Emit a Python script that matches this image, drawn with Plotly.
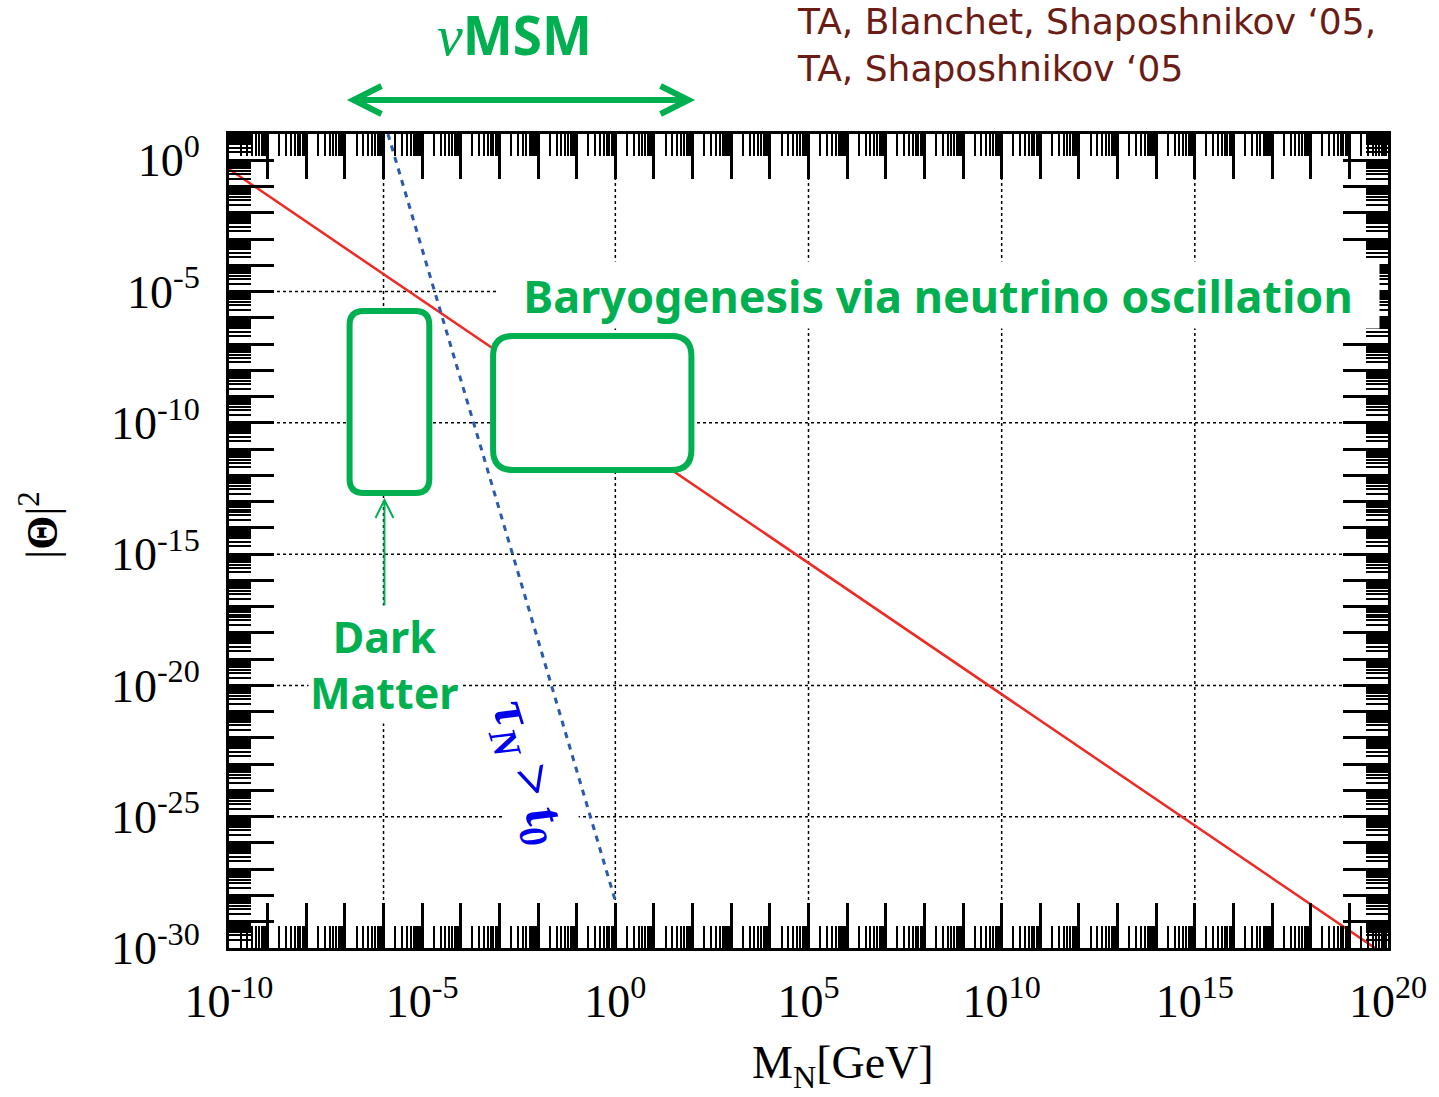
import plotly.graph_objects as go

# ---------------- data ----------------
x_decades = list(range(-10, 21))            # major x ticks (log10 GeV)
y_decades = list(range(-30, 2))             # major y ticks (log10)
x_label_every = 5
y_label_every = 5

seesaw_M = [1e-10, 1e20]                    # red line: |Theta|^2 = m_nu / M_N
seesaw_T2 = [4.6e-1, 4.6e-31]

life_M = [1.3e-6, 1.0]                      # blue dotted: tau_N = t_0
life_T2 = [1.0e1, 6.3e-29]

grid_x = [1e-6, 1e0, 1e5, 1e10, 1e15]       # vertical dotted guide lines
grid_y = [1e-5, 1e-10, 1e-15, 1e-20, 1e-25]  # horizontal dotted guide lines

xr = [-10, 20]
yr = [-30, 1]

# ---------------- geometry helpers (pixel -> paper) ----------------
W, H = 1439, 1097
L, R, T, B = 229, 1392, 134, 948
PW, PH = R - L, B - T


def px(x):
    return (x - L) / PW


def py(y):
    return (B - y) / PH


GREEN = "#00b050"
SERIF = "Liberation Serif"
SANS = "Noto Sans"

fig = go.Figure()

# dotted guide lines
gx, gy = [], []
for v in grid_y:
    gx += [10.0 ** xr[0], 10.0 ** xr[1], None]
    gy += [v, v, None]
for v in grid_x:
    gx += [v, v, None]
    gy += [10.0 ** yr[0], 10.0 ** yr[1], None]
fig.add_trace(go.Scatter(x=gx, y=gy, mode="lines",
                         line=dict(color="black", width=1.5, dash="3px,3px"),
                         hoverinfo="skip"))

fig.add_trace(go.Scatter(x=seesaw_M, y=seesaw_T2, mode="lines",
                         line=dict(color="#ee2a24", width=2.5)))
fig.add_trace(go.Scatter(x=life_M, y=life_T2, mode="lines",
                         line=dict(color="#2a5aad", width=3, dash="6px,6px")))


def rrect(x0, y0, x1, y1, r):
    # rounded rectangle path in paper coords, given pixel box
    rx, ry = r / PW, r / PH
    a, b, c, d = px(x0), px(x1), py(y1), py(y0)  # left, right, bottom, top
    return (f"M {a+rx},{d} L {b-rx},{d} Q {b},{d} {b},{d-ry} "
            f"L {b},{c+ry} Q {b},{c} {b-rx},{c} L {a+rx},{c} "
            f"Q {a},{c} {a},{c+ry} L {a},{d-ry} Q {a},{d} {a+rx},{d} Z")


shapes = []
shapes.append(dict(type="path", xref="paper", yref="paper", layer="above",
                   path=rrect(350, 311, 430, 493, 14),
                   line=dict(color=GREEN, width=6), fillcolor="white"))
shapes.append(dict(type="path", xref="paper", yref="paper", layer="above",
                   path=rrect(494, 336, 693, 470, 20),
                   line=dict(color=GREEN, width=6), fillcolor="white"))

# double arrow at top (nuMSM range)
arrow = (f"M {px(354)},{py(100)} L {px(690)},{py(100)} "
         f"M {px(382)},{py(86)} L {px(354)},{py(100)} L {px(382)},{py(114)} "
         f"M {px(662)},{py(86)} L {px(690)},{py(100)} L {px(662)},{py(114)}")
shapes.append(dict(type="path", xref="paper", yref="paper", layer="above",
                   path=arrow, line=dict(color=GREEN, width=6)))

# small arrow to dark matter box
dm_arrow = (f"M {px(385)},{py(612)} L {px(385)},{py(500)} "
            f"M {px(376)},{py(518)} L {px(385)},{py(500)} L {px(394)},{py(518)}")
shapes.append(dict(type="path", xref="paper", yref="paper", layer="above",
                   path=dm_arrow, line=dict(color=GREEN, width=2)))


def ann(x, y, text, **kw):
    d = dict(x=px(x), y=py(y), xref="paper", yref="paper", showarrow=False,
             xanchor="center", yanchor="middle", text=text)
    d.update(kw)
    return d


annotations = [
    ann(515, 35, f"<span style='font-family:{SERIF};font-size:58px'><i>ν</i></span><b>MSM</b>",
        font=dict(family=SANS, size=53, color=GREEN)),
    ann(797, 45, "TA, Blanchet, Shaposhnikov ‘05,<br>TA, Shaposhnikov ‘05",
        xanchor="left", align="left",
        font=dict(family="DejaVu Sans", size=36, color="#6b1c14")),
    ann(940, 295, "<b>Baryogenesis via neutrino oscillation</b>",
        width=880, height=64, bgcolor="white",
        font=dict(family=SANS, size=45, color=GREEN)),
    ann(385, 664, "<b>Dark<br>Matter</b>", bgcolor="white",
        font=dict(family=SANS, size=43, color=GREEN)),
    ann(529, 772, "<b><i>τ<sub>N</sub> > t<sub>0</sub></i></b>", textangle=73,
        bgcolor="white",
        font=dict(family=SERIF, size=55, color="#0000ee")),
    ann(845, 1066, "M<sub>N</sub>[GeV]",
        font=dict(family=SERIF, size=46, color="black")),
    ann(38, 525, "|<b>Θ</b>|<sup>2</sup>", textangle=-90,
        font=dict(family=SERIF, size=44, color="black")),
]

xmin = [k * 10.0 ** d for d in x_decades[:-1] for k in range(2, 10)]
ymin = [k * 10.0 ** d for d in y_decades[:-1] for k in range(2, 10)]


def ttext(decades, every):
    return [f"10<sup>{d}</sup>" if d % every == 0 else "" for d in decades]


axis_common = dict(type="log", showgrid=False, zeroline=False,
                   showline=True, linecolor="black", linewidth=3, mirror="allticks",
                   ticks="inside", ticklen=45, tickwidth=3, tickcolor="black",
                   tickfont=dict(family=SERIF, size=46, color="black"))

fig.update_xaxes(range=xr, tickmode="array",
                 tickvals=[10.0 ** d for d in x_decades],
                 ticktext=ttext(x_decades, x_label_every),
                 ticklabelstandoff=11,
                 minor=dict(tickmode="array", tickvals=xmin, ticks="inside",
                            ticklen=22, tickwidth=2, tickcolor="black"),
                 **axis_common)
fig.update_yaxes(range=yr, tickmode="array",
                 tickvals=[10.0 ** d for d in y_decades],
                 ticktext=ttext(y_decades, y_label_every),
                 ticklabelstandoff=17,
                 minor=dict(tickmode="array", tickvals=ymin, ticks="inside",
                            ticklen=22, tickwidth=2, tickcolor="black"),
                 **axis_common)

fig.update_layout(width=W, height=H, showlegend=False,
                  margin=dict(l=L, r=W - R, t=T, b=H - B),
                  paper_bgcolor="white", plot_bgcolor="white",
                  shapes=shapes, annotations=annotations)

fig.write_html("out.html", config={"displayModeBar": False},
               post_script="document.body.style.margin='0px';")
